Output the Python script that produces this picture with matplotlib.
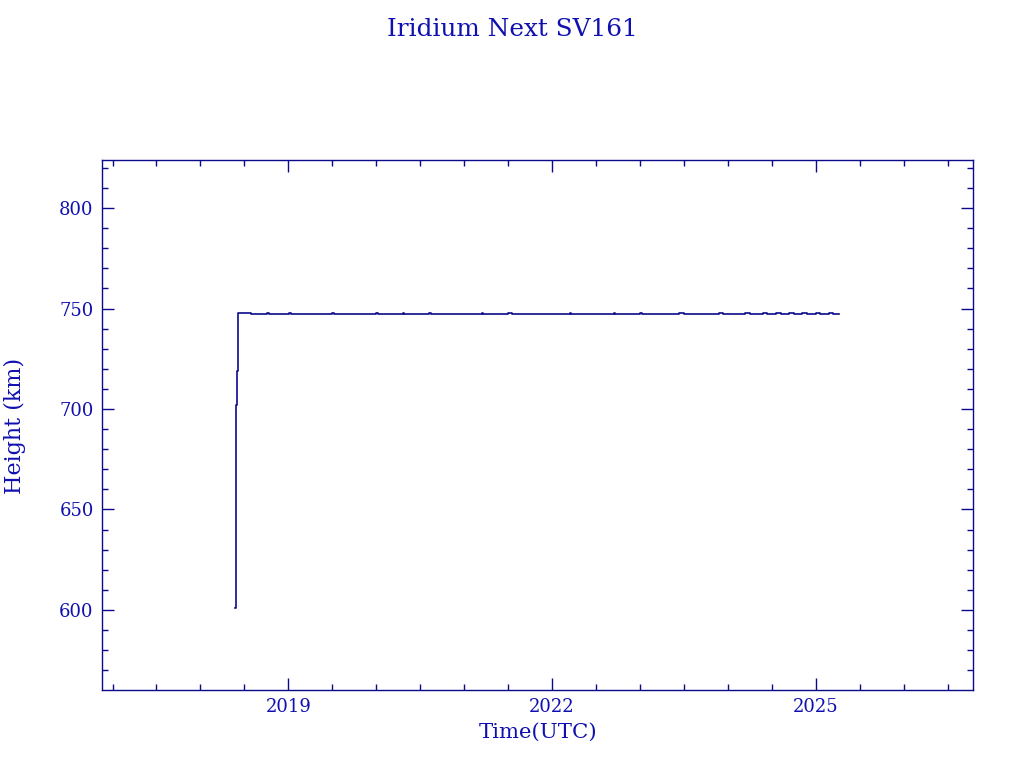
import matplotlib
matplotlib.use("Agg")
import matplotlib.pyplot as plt
from matplotlib.ticker import MultipleLocator, FixedLocator

# ---- data (decimal year, height km) ----
years = [2018.39, 2018.40, 2018.415, 2018.43, 2018.57, 2018.76, 2018.78,
         2019.01, 2019.03, 2019.50, 2019.52, 2020.00, 2020.02, 2020.30,
         2020.32, 2020.60, 2020.62, 2021.20, 2021.22, 2021.50, 2021.55,
         2022.20, 2022.22, 2022.70, 2022.72, 2023.00, 2023.02, 2023.45,
         2023.50, 2023.90, 2023.95, 2024.20, 2024.25, 2024.40, 2024.45,
         2024.55, 2024.60, 2024.70, 2024.75, 2024.85, 2024.90, 2025.00,
         2025.05, 2025.15, 2025.20, 2025.27]
heights = [601.0, 702.0, 719.0, 748.0, 747.3, 748.0, 747.3,
           748.0, 747.3, 748.0, 747.3, 748.0, 747.3, 748.0,
           747.3, 748.0, 747.3, 748.0, 747.3, 748.0, 747.3,
           748.0, 747.3, 748.0, 747.3, 748.0, 747.3, 747.8,
           747.2, 747.8, 747.2, 747.8, 747.2, 747.8, 747.2,
           747.8, 747.2, 747.8, 747.2, 747.8, 747.2, 747.8,
           747.2, 747.8, 747.2, 747.2]

x_major = [2019, 2022, 2025]
x_labels = ["2019", "2022", "2025"]

TXT = "#1010b0"
LINE = "#0a0a8a"

plt.rcParams["font.family"] = ["DejaVu Serif"]

fig = plt.figure(figsize=(10.24, 7.68), dpi=100)
ax = fig.add_axes([0.0996, 0.1016, 0.8506, 0.6901])

ax.plot(years, heights, drawstyle="steps-post", color=LINE, linewidth=1.2)

ax.set_xlim(2016.88, 2026.79)
ax.set_ylim(560.2, 823.9)

ax.xaxis.set_major_locator(FixedLocator(x_major))
ax.set_xticklabels(x_labels)
ax.xaxis.set_minor_locator(MultipleLocator(0.5))
ax.yaxis.set_major_locator(MultipleLocator(50))
ax.yaxis.set_minor_locator(MultipleLocator(10))

ax.tick_params(which="both", direction="in", top=True, right=True,
               colors=LINE, labelcolor=TXT, labelsize=13, width=1)
ax.tick_params(which="major", length=8.6, pad=6)
ax.tick_params(which="minor", length=4.3)
for s in ax.spines.values():
    s.set_color(LINE)
    s.set_linewidth(1)

fig.text(538 / 1024, 1 - 732 / 768, "Time(UTC)", color=TXT, fontsize=15.3,
         ha="center", va="center")
fig.text(15 / 1024, 1 - 426 / 768, "Height (km)", color=TXT, fontsize=16,
         ha="center", va="center", rotation=90)
fig.text(512 / 1024, 1 - 30 / 768, "Iridium Next SV161", color=TXT,
         fontsize=17.8, ha="center", va="center")

fig.savefig("out.png", dpi=100)
